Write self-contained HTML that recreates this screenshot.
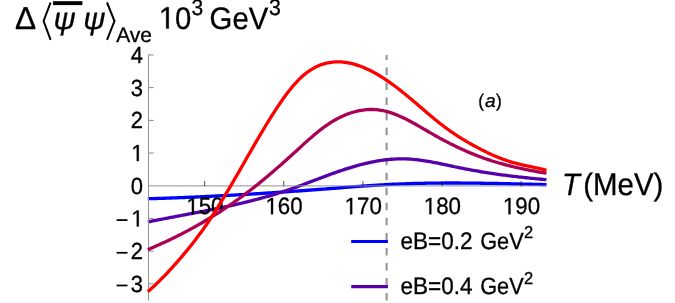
<!DOCTYPE html>
<html><head><meta charset="utf-8"><style>
html,body{margin:0;padding:0;background:#fff;}
text{stroke:#000;stroke-width:0.3px;}
svg{display:block;font-family:"Liberation Sans",sans-serif;text-rendering:geometricPrecision;will-change:transform;}
</style></head><body>
<svg width="675" height="303" viewBox="0 0 675 303">
<rect width="675" height="303" fill="#fff"/>
<line x1="386.6" y1="300.5" x2="386.6" y2="55.0" stroke="#949494" stroke-width="2.1" stroke-dasharray="7.5 7.53"/>
<path d="M147.8,198.74 L149.5,198.69 L151.1,198.65 L152.8,198.60 L154.5,198.55 L156.1,198.50 L157.8,198.44 L159.5,198.39 L161.1,198.34 L162.8,198.28 L164.5,198.23 L166.2,198.17 L167.8,198.11 L169.5,198.05 L171.2,197.99 L172.8,197.93 L174.5,197.87 L176.2,197.81 L177.8,197.74 L179.5,197.68 L181.2,197.61 L182.8,197.54 L184.5,197.48 L186.2,197.41 L187.8,197.34 L189.5,197.27 L191.2,197.20 L192.8,197.12 L194.5,197.05 L196.2,196.98 L197.8,196.90 L199.5,196.83 L201.2,196.75 L202.9,196.67 L204.5,196.59 L206.2,196.51 L207.9,196.43 L209.5,196.35 L211.2,196.27 L212.9,196.19 L214.5,196.10 L216.2,196.02 L217.9,195.93 L219.5,195.85 L221.2,195.76 L222.9,195.67 L224.5,195.58 L226.2,195.49 L227.9,195.40 L229.5,195.31 L231.2,195.22 L232.9,195.13 L234.5,195.04 L236.2,194.94 L237.9,194.85 L239.6,194.75 L241.2,194.66 L242.9,194.56 L244.6,194.46 L246.2,194.36 L247.9,194.26 L249.6,194.16 L251.2,194.06 L252.9,193.96 L254.6,193.86 L256.2,193.76 L257.9,193.65 L259.6,193.55 L261.2,193.44 L262.9,193.34 L264.6,193.23 L266.2,193.13 L267.9,193.02 L269.6,192.91 L271.2,192.80 L272.9,192.69 L274.6,192.58 L276.3,192.47 L277.9,192.36 L279.6,192.25 L281.3,192.14 L282.9,192.02 L284.6,191.91 L286.3,191.80 L287.9,191.68 L289.6,191.57 L291.3,191.45 L292.9,191.33 L294.6,191.22 L296.3,191.10 L297.9,190.98 L299.6,190.86 L301.3,190.74 L302.9,190.62 L304.6,190.50 L306.3,190.38 L307.9,190.26 L309.6,190.14 L311.3,190.02 L313.0,189.89 L314.6,189.77 L316.3,189.65 L318.0,189.52 L319.6,189.40 L321.3,189.27 L323.0,189.15 L324.6,189.02 L326.3,188.89 L328.0,188.77 L329.6,188.64 L331.3,188.51 L333.0,188.38 L334.6,188.26 L336.3,188.13 L338.0,188.00 L339.6,187.87 L341.3,187.74 L343.0,187.61 L344.6,187.48 L346.3,187.35 L348.0,187.22 L349.7,187.09 L351.3,186.96 L353.0,186.84 L354.7,186.71 L356.3,186.58 L358.0,186.46 L359.7,186.34 L361.3,186.21 L363.0,186.09 L364.7,185.97 L366.3,185.85 L368.0,185.74 L369.7,185.62 L371.3,185.51 L373.0,185.40 L374.7,185.29 L376.3,185.18 L378.0,185.08 L379.7,184.98 L381.3,184.88 L383.0,184.78 L384.7,184.69 L386.4,184.60 L388.0,184.51 L389.7,184.43 L391.4,184.34 L393.0,184.26 L394.7,184.19 L396.4,184.11 L398.0,184.04 L399.7,183.97 L401.4,183.91 L403.0,183.84 L404.7,183.78 L406.4,183.73 L408.0,183.67 L409.7,183.62 L411.4,183.57 L413.0,183.52 L414.7,183.47 L416.4,183.43 L418.0,183.39 L419.7,183.35 L421.4,183.31 L423.1,183.28 L424.7,183.25 L426.4,183.22 L428.1,183.19 L429.7,183.16 L431.4,183.14 L433.1,183.12 L434.7,183.10 L436.4,183.08 L438.1,183.07 L439.7,183.05 L441.4,183.04 L443.1,183.03 L444.7,183.02 L446.4,183.02 L448.1,183.01 L449.7,183.01 L451.4,183.01 L453.1,183.01 L454.7,183.01 L456.4,183.01 L458.1,183.02 L459.8,183.02 L461.4,183.03 L463.1,183.04 L464.8,183.05 L466.4,183.06 L468.1,183.08 L469.8,183.09 L471.4,183.11 L473.1,183.13 L474.8,183.15 L476.4,183.17 L478.1,183.19 L479.8,183.21 L481.4,183.23 L483.1,183.26 L484.8,183.28 L486.4,183.31 L488.1,183.33 L489.8,183.36 L491.4,183.39 L493.1,183.42 L494.8,183.45 L496.5,183.48 L498.1,183.52 L499.8,183.55 L501.5,183.58 L503.1,183.62 L504.8,183.65 L506.5,183.69 L508.1,183.72 L509.8,183.76 L511.5,183.80 L513.1,183.84 L514.8,183.87 L516.5,183.91 L518.1,183.95 L519.8,183.99 L521.5,184.03 L523.1,184.07 L524.8,184.11 L526.5,184.15 L528.1,184.19 L529.8,184.23 L531.5,184.27 L533.2,184.31 L534.8,184.35 L536.5,184.39 L538.2,184.43 L539.8,184.47 L541.5,184.51 L543.2,184.55 L544.8,184.59 L546.5,184.63" fill="none" stroke="#0000ff" stroke-width="3.3" stroke-linejoin="round"/>
<path d="M147.8,222.00 L149.5,221.66 L151.1,221.32 L152.8,220.98 L154.5,220.65 L156.1,220.31 L157.8,219.98 L159.5,219.66 L161.1,219.33 L162.8,219.00 L164.5,218.68 L166.2,218.36 L167.8,218.04 L169.5,217.72 L171.2,217.40 L172.8,217.08 L174.5,216.76 L176.2,216.44 L177.8,216.13 L179.5,215.81 L181.2,215.50 L182.8,215.18 L184.5,214.87 L186.2,214.55 L187.8,214.23 L189.5,213.92 L191.2,213.60 L192.8,213.28 L194.5,212.97 L196.2,212.65 L197.8,212.33 L199.5,212.01 L201.2,211.68 L202.9,211.36 L204.5,211.03 L206.2,210.71 L207.9,210.38 L209.5,210.05 L211.2,209.72 L212.9,209.38 L214.5,209.04 L216.2,208.70 L217.9,208.36 L219.5,208.02 L221.2,207.67 L222.9,207.32 L224.5,206.97 L226.2,206.61 L227.9,206.25 L229.5,205.89 L231.2,205.52 L232.9,205.15 L234.5,204.77 L236.2,204.40 L237.9,204.01 L239.6,203.63 L241.2,203.24 L242.9,202.84 L244.6,202.44 L246.2,202.04 L247.9,201.63 L249.6,201.21 L251.2,200.80 L252.9,200.37 L254.6,199.94 L256.2,199.51 L257.9,199.07 L259.6,198.62 L261.2,198.17 L262.9,197.71 L264.6,197.25 L266.2,196.78 L267.9,196.30 L269.6,195.82 L271.2,195.33 L272.9,194.83 L274.6,194.33 L276.3,193.82 L277.9,193.30 L279.6,192.78 L281.3,192.25 L282.9,191.71 L284.6,191.16 L286.3,190.61 L287.9,190.04 L289.6,189.47 L291.3,188.90 L292.9,188.31 L294.6,187.72 L296.3,187.12 L297.9,186.51 L299.6,185.90 L301.3,185.29 L302.9,184.67 L304.6,184.05 L306.3,183.42 L307.9,182.79 L309.6,182.16 L311.3,181.53 L313.0,180.90 L314.6,180.26 L316.3,179.63 L318.0,179.00 L319.6,178.36 L321.3,177.73 L323.0,177.11 L324.6,176.48 L326.3,175.86 L328.0,175.24 L329.6,174.63 L331.3,174.03 L333.0,173.42 L334.6,172.83 L336.3,172.24 L338.0,171.66 L339.6,171.09 L341.3,170.52 L343.0,169.97 L344.6,169.42 L346.3,168.88 L348.0,168.35 L349.7,167.83 L351.3,167.32 L353.0,166.82 L354.7,166.34 L356.3,165.86 L358.0,165.40 L359.7,164.95 L361.3,164.51 L363.0,164.09 L364.7,163.68 L366.3,163.28 L368.0,162.90 L369.7,162.53 L371.3,162.17 L373.0,161.84 L374.7,161.51 L376.3,161.21 L378.0,160.92 L379.7,160.65 L381.3,160.39 L383.0,160.16 L384.7,159.94 L386.4,159.74 L388.0,159.56 L389.7,159.40 L391.4,159.25 L393.0,159.13 L394.7,159.03 L396.4,158.95 L398.0,158.89 L399.7,158.86 L401.4,158.84 L403.0,158.85 L404.7,158.88 L406.4,158.93 L408.0,159.01 L409.7,159.11 L411.4,159.22 L413.0,159.36 L414.7,159.52 L416.4,159.70 L418.0,159.89 L419.7,160.10 L421.4,160.33 L423.1,160.57 L424.7,160.82 L426.4,161.09 L428.1,161.37 L429.7,161.66 L431.4,161.96 L433.1,162.27 L434.7,162.58 L436.4,162.91 L438.1,163.24 L439.7,163.58 L441.4,163.92 L443.1,164.27 L444.7,164.62 L446.4,164.98 L448.1,165.33 L449.7,165.69 L451.4,166.04 L453.1,166.39 L454.7,166.75 L456.4,167.09 L458.1,167.44 L459.8,167.78 L461.4,168.11 L463.1,168.44 L464.8,168.77 L466.4,169.09 L468.1,169.41 L469.8,169.72 L471.4,170.03 L473.1,170.33 L474.8,170.63 L476.4,170.92 L478.1,171.21 L479.8,171.50 L481.4,171.78 L483.1,172.05 L484.8,172.33 L486.4,172.59 L488.1,172.85 L489.8,173.11 L491.4,173.37 L493.1,173.61 L494.8,173.86 L496.5,174.10 L498.1,174.33 L499.8,174.57 L501.5,174.79 L503.1,175.01 L504.8,175.23 L506.5,175.45 L508.1,175.66 L509.8,175.86 L511.5,176.07 L513.1,176.27 L514.8,176.46 L516.5,176.66 L518.1,176.85 L519.8,177.03 L521.5,177.22 L523.1,177.40 L524.8,177.58 L526.5,177.76 L528.1,177.93 L529.8,178.10 L531.5,178.27 L533.2,178.44 L534.8,178.61 L536.5,178.77 L538.2,178.93 L539.8,179.10 L541.5,179.26 L543.2,179.42 L544.8,179.57 L546.5,179.73" fill="none" stroke="#5500aa" stroke-width="3.3" stroke-linejoin="round"/>
<line x1="148.5" y1="54.5" x2="148.5" y2="300.5" stroke="#929292" stroke-width="1"/>
<line x1="148.5" y1="185.9" x2="546.3" y2="185.9" stroke="#929292" stroke-width="1"/>
<line x1="148.5" y1="54.95" x2="153.6" y2="54.95" stroke="#858585" stroke-width="1"/>
<line x1="148.5" y1="87.65" x2="153.6" y2="87.65" stroke="#858585" stroke-width="1"/>
<line x1="148.5" y1="120.35" x2="153.6" y2="120.35" stroke="#858585" stroke-width="1"/>
<line x1="148.5" y1="153.05" x2="153.6" y2="153.05" stroke="#858585" stroke-width="1"/>
<line x1="148.5" y1="218.45" x2="153.6" y2="218.45" stroke="#858585" stroke-width="1"/>
<line x1="148.5" y1="251.15" x2="153.6" y2="251.15" stroke="#858585" stroke-width="1"/>
<line x1="148.5" y1="283.85" x2="153.6" y2="283.85" stroke="#858585" stroke-width="1"/>
<line x1="204.60" y1="186.2" x2="204.60" y2="180.9" stroke="#000" stroke-opacity="0.62" stroke-width="1.1"/>
<line x1="283.75" y1="186.2" x2="283.75" y2="180.9" stroke="#000" stroke-opacity="0.62" stroke-width="1.1"/>
<line x1="362.90" y1="186.2" x2="362.90" y2="180.9" stroke="#000" stroke-opacity="0.62" stroke-width="1.1"/>
<line x1="442.05" y1="186.2" x2="442.05" y2="180.9" stroke="#000" stroke-opacity="0.62" stroke-width="1.1"/>
<line x1="521.20" y1="186.2" x2="521.20" y2="180.9" stroke="#000" stroke-opacity="0.62" stroke-width="1.1"/>
<text transform="translate(130.76,62.95) scale(1.0,1.06)" font-size="22">4</text>
<text transform="translate(130.76,95.65) scale(1.0,1.06)" font-size="22">3</text>
<text transform="translate(130.76,128.35) scale(1.0,1.06)" font-size="22">2</text>
<path transform="translate(131.26,161.05) scale(1,1.06)" d="M5.53,0.00 L5.53,-13.29 L2.12,-10.85 L2.12,-12.68 L5.69,-15.14 L7.48,-15.14 L7.48,0.00Z" fill="#000" stroke="#000" stroke-width="0.3"/>
<text transform="translate(130.76,193.75) scale(1.0,1.06)" font-size="22">0</text>
<path transform="translate(131.26,226.45) scale(1,1.06)" d="M5.53,0.00 L5.53,-13.29 L2.12,-10.85 L2.12,-12.68 L5.69,-15.14 L7.48,-15.14 L7.48,0.00Z" fill="#000" stroke="#000" stroke-width="0.3"/>
<rect x="116.6" y="219.20" width="10.9" height="1.75" fill="#000"/>
<text transform="translate(130.76,259.15) scale(1.0,1.06)" font-size="22">2</text>
<rect x="116.6" y="251.90" width="10.9" height="1.75" fill="#000"/>
<text transform="translate(130.76,291.85) scale(1.0,1.06)" font-size="22">3</text>
<rect x="116.6" y="284.60" width="10.9" height="1.75" fill="#000"/>
<path transform="translate(186.30,214.20) scale(1,1.06)" d="M5.61,0.00 L5.61,-13.47 L2.15,-11.00 L2.15,-12.85 L5.77,-15.34 L7.58,-15.34 L7.58,0.00Z" fill="#000" stroke="#000" stroke-width="0.3"/><text transform="translate(198.70,214.20) scale(1.0,1.06)" font-size="22.3">50</text>
<path transform="translate(265.45,214.20) scale(1,1.06)" d="M5.61,0.00 L5.61,-13.47 L2.15,-11.00 L2.15,-12.85 L5.77,-15.34 L7.58,-15.34 L7.58,0.00Z" fill="#000" stroke="#000" stroke-width="0.3"/><text transform="translate(277.85,214.20) scale(1.0,1.06)" font-size="22.3">60</text>
<path transform="translate(344.60,214.20) scale(1,1.06)" d="M5.61,0.00 L5.61,-13.47 L2.15,-11.00 L2.15,-12.85 L5.77,-15.34 L7.58,-15.34 L7.58,0.00Z" fill="#000" stroke="#000" stroke-width="0.3"/><text transform="translate(357.00,214.20) scale(1.0,1.06)" font-size="22.3">70</text>
<path transform="translate(423.75,214.20) scale(1,1.06)" d="M5.61,0.00 L5.61,-13.47 L2.15,-11.00 L2.15,-12.85 L5.77,-15.34 L7.58,-15.34 L7.58,0.00Z" fill="#000" stroke="#000" stroke-width="0.3"/><text transform="translate(436.15,214.20) scale(1.0,1.06)" font-size="22.3">80</text>
<path transform="translate(502.90,214.20) scale(1,1.06)" d="M5.61,0.00 L5.61,-13.47 L2.15,-11.00 L2.15,-12.85 L5.77,-15.34 L7.58,-15.34 L7.58,0.00Z" fill="#000" stroke="#000" stroke-width="0.3"/><text transform="translate(515.30,214.20) scale(1.0,1.06)" font-size="22.3">90</text>
<path d="M147.8,249.70 L149.5,248.99 L151.1,248.27 L152.8,247.55 L154.5,246.82 L156.1,246.08 L157.8,245.33 L159.5,244.58 L161.1,243.82 L162.8,243.06 L164.5,242.28 L166.2,241.50 L167.8,240.71 L169.5,239.92 L171.2,239.11 L172.8,238.30 L174.5,237.48 L176.2,236.65 L177.8,235.82 L179.5,234.97 L181.2,234.12 L182.8,233.26 L184.5,232.39 L186.2,231.51 L187.8,230.63 L189.5,229.73 L191.2,228.83 L192.8,227.91 L194.5,226.99 L196.2,226.06 L197.8,225.12 L199.5,224.17 L201.2,223.21 L202.9,222.24 L204.5,221.26 L206.2,220.27 L207.9,219.27 L209.5,218.26 L211.2,217.24 L212.9,216.21 L214.5,215.18 L216.2,214.13 L217.9,213.06 L219.5,211.99 L221.2,210.91 L222.9,209.82 L224.5,208.72 L226.2,207.60 L227.9,206.48 L229.5,205.34 L231.2,204.19 L232.9,203.03 L234.5,201.86 L236.2,200.68 L237.9,199.49 L239.6,198.28 L241.2,197.06 L242.9,195.83 L244.6,194.59 L246.2,193.34 L247.9,192.07 L249.6,190.79 L251.2,189.50 L252.9,188.20 L254.6,186.88 L256.2,185.56 L257.9,184.22 L259.6,182.87 L261.2,181.51 L262.9,180.13 L264.6,178.75 L266.2,177.36 L267.9,175.96 L269.6,174.54 L271.2,173.12 L272.9,171.69 L274.6,170.26 L276.3,168.81 L277.9,167.36 L279.6,165.90 L281.3,164.43 L282.9,162.95 L284.6,161.47 L286.3,159.98 L287.9,158.49 L289.6,156.99 L291.3,155.49 L292.9,153.98 L294.6,152.46 L296.3,150.95 L297.9,149.43 L299.6,147.90 L301.3,146.38 L302.9,144.86 L304.6,143.35 L306.3,141.84 L307.9,140.35 L309.6,138.87 L311.3,137.41 L313.0,135.97 L314.6,134.56 L316.3,133.17 L318.0,131.80 L319.6,130.47 L321.3,129.18 L323.0,127.92 L324.6,126.70 L326.3,125.52 L328.0,124.38 L329.6,123.27 L331.3,122.22 L333.0,121.20 L334.6,120.22 L336.3,119.28 L338.0,118.38 L339.6,117.53 L341.3,116.72 L343.0,115.95 L344.6,115.22 L346.3,114.53 L348.0,113.89 L349.7,113.29 L351.3,112.73 L353.0,112.22 L354.7,111.75 L356.3,111.32 L358.0,110.94 L359.7,110.60 L361.3,110.31 L363.0,110.06 L364.7,109.85 L366.3,109.70 L368.0,109.58 L369.7,109.51 L371.3,109.49 L373.0,109.52 L374.7,109.59 L376.3,109.71 L378.0,109.87 L379.7,110.08 L381.3,110.34 L383.0,110.65 L384.7,111.00 L386.4,111.40 L388.0,111.85 L389.7,112.35 L391.4,112.88 L393.0,113.46 L394.7,114.08 L396.4,114.73 L398.0,115.42 L399.7,116.15 L401.4,116.90 L403.0,117.68 L404.7,118.49 L406.4,119.32 L408.0,120.18 L409.7,121.06 L411.4,121.95 L413.0,122.86 L414.7,123.79 L416.4,124.73 L418.0,125.68 L419.7,126.64 L421.4,127.60 L423.1,128.57 L424.7,129.55 L426.4,130.52 L428.1,131.49 L429.7,132.46 L431.4,133.42 L433.1,134.37 L434.7,135.31 L436.4,136.25 L438.1,137.17 L439.7,138.09 L441.4,138.99 L443.1,139.89 L444.7,140.77 L446.4,141.64 L448.1,142.50 L449.7,143.36 L451.4,144.20 L453.1,145.03 L454.7,145.84 L456.4,146.65 L458.1,147.45 L459.8,148.23 L461.4,149.00 L463.1,149.76 L464.8,150.51 L466.4,151.24 L468.1,151.97 L469.8,152.68 L471.4,153.37 L473.1,154.06 L474.8,154.73 L476.4,155.39 L478.1,156.03 L479.8,156.66 L481.4,157.28 L483.1,157.88 L484.8,158.48 L486.4,159.05 L488.1,159.62 L489.8,160.17 L491.4,160.71 L493.1,161.24 L494.8,161.76 L496.5,162.26 L498.1,162.76 L499.8,163.24 L501.5,163.71 L503.1,164.17 L504.8,164.62 L506.5,165.06 L508.1,165.49 L509.8,165.92 L511.5,166.33 L513.1,166.73 L514.8,167.12 L516.5,167.51 L518.1,167.89 L519.8,168.25 L521.5,168.62 L523.1,168.97 L524.8,169.31 L526.5,169.65 L528.1,169.98 L529.8,170.31 L531.5,170.63 L533.2,170.94 L534.8,171.24 L536.5,171.54 L538.2,171.84 L539.8,172.13 L541.5,172.41 L543.2,172.69 L544.8,172.96 L546.5,173.23" fill="none" stroke="#aa0055" stroke-width="3.3" stroke-linejoin="round"/>
<path d="M147.8,291.61 L149.5,290.20 L151.1,288.74 L152.8,287.25 L154.5,285.71 L156.1,284.14 L157.8,282.53 L159.5,280.89 L161.1,279.22 L162.8,277.52 L164.5,275.80 L166.2,274.04 L167.8,272.27 L169.5,270.47 L171.2,268.65 L172.8,266.82 L174.5,264.97 L176.2,263.10 L177.8,261.21 L179.5,259.30 L181.2,257.37 L182.8,255.41 L184.5,253.43 L186.2,251.43 L187.8,249.39 L189.5,247.33 L191.2,245.24 L192.8,243.13 L194.5,240.97 L196.2,238.79 L197.8,236.57 L199.5,234.32 L201.2,232.03 L202.9,229.70 L204.5,227.34 L206.2,224.93 L207.9,222.49 L209.5,220.01 L211.2,217.49 L212.9,214.94 L214.5,212.35 L216.2,209.73 L217.9,207.09 L219.5,204.41 L221.2,201.71 L222.9,198.98 L224.5,196.22 L226.2,193.44 L227.9,190.65 L229.5,187.83 L231.2,184.99 L232.9,182.13 L234.5,179.27 L236.2,176.38 L237.9,173.49 L239.6,170.59 L241.2,167.69 L242.9,164.78 L244.6,161.87 L246.2,158.95 L247.9,156.04 L249.6,153.14 L251.2,150.24 L252.9,147.35 L254.6,144.46 L256.2,141.60 L257.9,138.74 L259.6,135.90 L261.2,133.08 L262.9,130.28 L264.6,127.51 L266.2,124.75 L267.9,122.03 L269.6,119.33 L271.2,116.67 L272.9,114.03 L274.6,111.43 L276.3,108.87 L277.9,106.36 L279.6,103.88 L281.3,101.45 L282.9,99.08 L284.6,96.76 L286.3,94.50 L287.9,92.29 L289.6,90.16 L291.3,88.09 L292.9,86.09 L294.6,84.17 L296.3,82.32 L297.9,80.56 L299.6,78.88 L301.3,77.29 L302.9,75.79 L304.6,74.37 L306.3,73.05 L307.9,71.80 L309.6,70.64 L311.3,69.56 L313.0,68.55 L314.6,67.63 L316.3,66.78 L318.0,66.00 L319.6,65.30 L321.3,64.67 L323.0,64.11 L324.6,63.61 L326.3,63.18 L328.0,62.82 L329.6,62.52 L331.3,62.27 L333.0,62.09 L334.6,61.96 L336.3,61.88 L338.0,61.86 L339.6,61.89 L341.3,61.97 L343.0,62.10 L344.6,62.28 L346.3,62.50 L348.0,62.78 L349.7,63.10 L351.3,63.46 L353.0,63.87 L354.7,64.32 L356.3,64.82 L358.0,65.36 L359.7,65.94 L361.3,66.55 L363.0,67.21 L364.7,67.91 L366.3,68.64 L368.0,69.41 L369.7,70.22 L371.3,71.06 L373.0,71.94 L374.7,72.84 L376.3,73.79 L378.0,74.76 L379.7,75.76 L381.3,76.79 L383.0,77.85 L384.7,78.94 L386.4,80.06 L388.0,81.20 L389.7,82.37 L391.4,83.56 L393.0,84.77 L394.7,86.01 L396.4,87.26 L398.0,88.54 L399.7,89.83 L401.4,91.15 L403.0,92.48 L404.7,93.82 L406.4,95.18 L408.0,96.55 L409.7,97.93 L411.4,99.33 L413.0,100.74 L414.7,102.15 L416.4,103.58 L418.0,105.01 L419.7,106.44 L421.4,107.88 L423.1,109.32 L424.7,110.76 L426.4,112.19 L428.1,113.62 L429.7,115.04 L431.4,116.44 L433.1,117.84 L434.7,119.22 L436.4,120.58 L438.1,121.92 L439.7,123.24 L441.4,124.53 L443.1,125.80 L444.7,127.05 L446.4,128.28 L448.1,129.48 L449.7,130.67 L451.4,131.83 L453.1,132.97 L454.7,134.09 L456.4,135.19 L458.1,136.27 L459.8,137.33 L461.4,138.38 L463.1,139.41 L464.8,140.41 L466.4,141.41 L468.1,142.38 L469.8,143.34 L471.4,144.28 L473.1,145.21 L474.8,146.12 L476.4,147.02 L478.1,147.90 L479.8,148.77 L481.4,149.63 L483.1,150.47 L484.8,151.30 L486.4,152.12 L488.1,152.92 L489.8,153.70 L491.4,154.46 L493.1,155.21 L494.8,155.94 L496.5,156.65 L498.1,157.34 L499.8,158.01 L501.5,158.65 L503.1,159.28 L504.8,159.88 L506.5,160.47 L508.1,161.02 L509.8,161.56 L511.5,162.06 L513.1,162.55 L514.8,163.01 L516.5,163.44 L518.1,163.86 L519.8,164.27 L521.5,164.66 L523.1,165.03 L524.8,165.40 L526.5,165.76 L528.1,166.12 L529.8,166.47 L531.5,166.82 L533.2,167.17 L534.8,167.53 L536.5,167.89 L538.2,168.26 L539.8,168.64 L541.5,169.03 L543.2,169.43 L544.8,169.86 L546.5,170.30" fill="none" stroke="#ff0000" stroke-width="3.3" stroke-linejoin="round"/>
<line x1="351.2" y1="241.5" x2="387.9" y2="241.5" stroke="#0000ff" stroke-width="3.2"/>
<line x1="351.2" y1="286.6" x2="387.9" y2="286.6" stroke="#5500aa" stroke-width="3.2"/>
<text transform="translate(400.40,248.60) scale(1.0,1.06)" font-size="22.55">eB=0.2</text>
<text transform="translate(480.20,248.60) scale(1.0,1.08)" font-size="21.7">GeV</text>
<text transform="translate(523.90,238.40) scale(1.0,1.05)" font-size="16.5">2</text>
<text transform="translate(400.40,293.70) scale(1.0,1.06)" font-size="22.55">eB=0.4</text>
<text transform="translate(480.20,293.70) scale(1.0,1.08)" font-size="21.7">GeV</text>
<text transform="translate(523.90,283.50) scale(1.0,1.05)" font-size="16.5">2</text>
<text transform="translate(478.20,106.70) scale(1.0,1.06)" font-size="17.3">(</text>
<text transform="translate(485.00,106.70) scale(1.0,0.96)" font-size="19.2" font-style="italic">a</text>
<text transform="translate(495.90,106.70) scale(1.0,1.06)" font-size="17.3">)</text>
<text transform="translate(561.90,195.00) scale(1.0,1.06)" font-size="29.3" font-style="italic">T</text>
<text transform="translate(583.20,195.00) scale(1.0,1.06)" font-size="29.45">(MeV)</text>
<text transform="translate(15.00,28.60) scale(1.0,1.0)" font-size="31.6">Δ</text>
<path d="M50.6,2.5 L43.6,21 L50.6,39.8" fill="none" stroke="#000" stroke-width="2.0"/>
<path d="M107,2.5 L114.5,21 L107,39.8" fill="none" stroke="#000" stroke-width="2.0"/>
<rect x="53" y="1.2" width="29.4" height="3.9" fill="#000"/>
<clipPath id="cp"><rect x="40" y="12.4" width="80" height="40"/></clipPath>
<g clip-path="url(#cp)"><text transform="translate(53.50,28.60) scale(1.0,1.03)" font-size="30.8" font-style="italic">ψ</text><text transform="translate(83.20,28.60) scale(1.0,1.03)" font-size="30.8" font-style="italic">ψ</text></g>
<text transform="translate(116.20,41.60) scale(1.0,1.0)" font-size="21">Ave</text>
<path transform="translate(158.80,28.60) scale(1,1.06)" d="M7.37,0.00 L7.37,-17.70 L2.82,-14.45 L2.82,-16.88 L7.58,-20.16 L9.96,-20.16 L9.96,0.00Z" fill="#000" stroke="#000" stroke-width="0.3"/><text transform="translate(175.10,28.60) scale(1.0,1.06)" font-size="29.3">0</text>
<text transform="translate(191.60,14.70) scale(1.0,1.06)" font-size="21">3</text>
<text transform="translate(209.60,28.60) scale(1.0,1.06)" font-size="29.3">GeV</text>
<text transform="translate(269.00,15.10) scale(1.0,1.06)" font-size="21.3">3</text>
</svg></body></html>
